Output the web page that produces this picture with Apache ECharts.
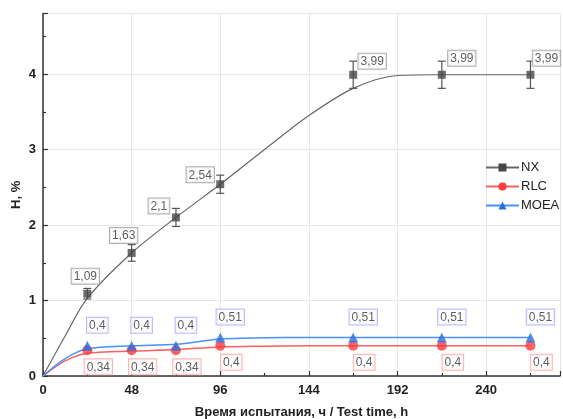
<!DOCTYPE html>
<html>
<head>
<meta charset="utf-8">
<script src="https://cdn.jsdelivr.net/npm/echarts@6/dist/echarts.min.js"></script>
<style>
  html, body { margin: 0; padding: 0; background: #fff; }
  #chart { width: 563px; height: 419px; }
</style>
</head>
<body>
<div id="chart"></div>
<script>
// measured points
const times = [24, 48, 72, 96, 168, 216, 264];
const nxValues = [1.09, 1.63, 2.1, 2.54, 3.99, 3.99, 3.99];
const nxErrors = [0.07, 0.11, 0.12, 0.12, 0.18, 0.18, 0.18];
const rlcValues = [0.34, 0.34, 0.34, 0.4, 0.4, 0.4, 0.4];
const moeaValues = [0.4, 0.4, 0.4, 0.51, 0.51, 0.51, 0.51];

// fitted curves
const fitTimes = [0, 12, 24, 48, 72, 96, 120, 144, 168, 192, 216, 264];
const nxFit = [0, 0.53, 1.03, 1.63, 2.1, 2.54, 3.0, 3.45, 3.81, 3.98, 3.99, 3.99];
const rlcFit = [0, 0.2, 0.3, 0.33, 0.35, 0.385, 0.395, 0.4, 0.4, 0.4, 0.4, 0.4];
const moeaFit = [0, 0.23, 0.36, 0.4, 0.42, 0.49, 0.505, 0.51, 0.51, 0.51, 0.51, 0.51];

const xTicks = [0, 48, 96, 144, 192, 240];

// label nudges (px) for the NX boxes
const nxLabelOffsets = [[-2, -1], [-8, -1], [-17, 5], [-20, 7], [19, 3], [20, 0], [16, 0]];

const font = "Liberation Sans, Arial, sans-serif";
const fmt = (p) => String(p.value[1]).replace(".", ",");

const chart = echarts.init(document.getElementById("chart"));

const boxLabel = (border) => ({
  show: true,
  formatter: fmt,
  fontFamily: font,
  fontSize: 12,
  color: "#333",
  backgroundColor: "#fff",
  borderColor: border,
  borderWidth: 1,
  padding: [2, 2, 1, 2],
});

const pairs = (xs, ys) => xs.map((x, i) => [x, ys[i]]);

chart.setOption({
  animation: false,
  textStyle: { fontFamily: font },
  grid: { left: 43, right: 3, top: 13.6, bottom: 43, outerBoundsMode: "none", containLabel: false },
  legend: {
    orient: "vertical",
    left: 485,
    top: 161,
    padding: 0,
    itemWidth: 33,
    itemHeight: 10,
    itemGap: 6,
    textStyle: { fontSize: 13, color: "#222", fontFamily: font, padding: [0, 0, 0, -3] },
    data: ["NX", "RLC", "MOEA"],
  },
  xAxis: {
    type: "value",
    min: 0,
    max: 280,
    interval: 48,
    name: "Время испытания, ч / Test time, h",
    nameLocation: "middle",
    nameGap: 30,
    nameTextStyle: { fontSize: 13, fontWeight: "bold", color: "#222", fontFamily: font },
    axisLine: { lineStyle: { color: "#333", width: 1.5 } },
    axisTick: { inside: true, length: 5, lineStyle: { color: "#333", width: 1.2 } },
    minorTick: { show: true, splitNumber: 2, length: 3, lineStyle: { color: "#333", width: 1.2 } },
    axisLabel: {
      showMaxLabel: false,
      margin: 8,
      fontSize: 13,
      fontWeight: "bold",
      color: "#222",
      fontFamily: font,
      formatter: (v) => (xTicks.includes(v) ? String(v) : ""),
    },
    splitLine: { show: true, lineStyle: { color: "#e8e8e8", width: 1 } },
  },
  yAxis: {
    type: "value",
    min: 0,
    max: 4.8,
    interval: 1,
    name: "H, %",
    nameLocation: "middle",
    nameGap: 20,
    nameMoveOverlap: false,
    nameRotate: 90,
    nameTextStyle: { fontSize: 13, fontWeight: "bold", color: "#222", fontFamily: font },
    axisLine: { show: true, lineStyle: { color: "#333", width: 1.5 } },
    axisTick: { show: true, inside: true, length: 5, lineStyle: { color: "#333", width: 1.2 } },
    minorTick: { show: true, splitNumber: 2, length: 3, lineStyle: { color: "#333", width: 1.2 } },
    axisLabel: {
      showMaxLabel: false,
      margin: 7,
      fontSize: 13,
      fontWeight: "bold",
      color: "#222",
      fontFamily: font,
    },
    splitLine: { show: true, lineStyle: { color: "#e8e8e8", width: 1 } },
  },
  series: [
    // fitted curves (first so legend uses their icon)
    {
      name: "NX", type: "line", smooth: 0.3,
      symbol: "rect", symbolSize: 8, showSymbol: false,
      itemStyle: { color: "#474747" },
      lineStyle: { color: "#666", width: 1.2 },
      data: pairs(fitTimes, nxFit), z: 2,
    },
    {
      name: "RLC", type: "line", smooth: 0.3,
      symbol: "circle", symbolSize: 9, showSymbol: false,
      itemStyle: { color: "#ff3b3b" },
      lineStyle: { color: "#ff6060", width: 1.5 },
      data: pairs(fitTimes, rlcFit), z: 2,
    },
    {
      name: "MOEA", type: "line", smooth: 0.3,
      symbol: "triangle", symbolSize: 9, showSymbol: false,
      itemStyle: { color: "#2a6fe0" },
      lineStyle: { color: "#4a90ff", width: 1.5 },
      data: pairs(fitTimes, moeaFit), z: 2,
    },
    // error bars for NX
    {
      type: "custom",
      z: 3,
      silent: true,
      data: times.map((t, i) => [t, nxValues[i] - nxErrors[i], nxValues[i] + nxErrors[i]]),
      encode: { x: 0, y: [1, 2] },
      renderItem: (params, api) => {
        const lo = api.coord([api.value(0), api.value(1)]);
        const hi = api.coord([api.value(0), api.value(2)]);
        const w = 4;
        const style = { stroke: "#555", lineWidth: 1.2 };
        return {
          type: "group",
          children: [
            { type: "line", shape: { x1: lo[0], y1: lo[1], x2: hi[0], y2: hi[1] }, style },
            { type: "line", shape: { x1: lo[0] - w, y1: lo[1], x2: lo[0] + w, y2: lo[1] }, style },
            { type: "line", shape: { x1: hi[0] - w, y1: hi[1], x2: hi[0] + w, y2: hi[1] }, style },
          ],
        };
      },
    },
    // measured points
    {
      name: "NX", type: "scatter", symbol: "rect", symbolSize: 8, z: 4,
      itemStyle: { color: "#474747" },
      label: Object.assign(boxLabel("#9a9a9a"), { position: "top" }),
      data: times.map((t, i) => ({ value: [t, nxValues[i]], label: { offset: nxLabelOffsets[i] } })),
    },
    {
      name: "RLC", type: "scatter", symbol: "circle", symbolSize: 10, z: 4,
      itemStyle: { color: "#ff3b3b" },
      label: Object.assign(boxLabel("#ffa0a0"), { position: "bottom", offset: [11, -1] }),
      data: pairs(times, rlcValues),
    },
    {
      name: "MOEA", type: "scatter", symbol: "triangle", symbolSize: 10, z: 5,
      itemStyle: { color: "#2a6fe0" },
      label: Object.assign(boxLabel("#a8a8ff"), { position: "top", offset: [10, -3] }),
      data: pairs(times, moeaValues),
    },
  ],
});
</script>
</body>
</html>
